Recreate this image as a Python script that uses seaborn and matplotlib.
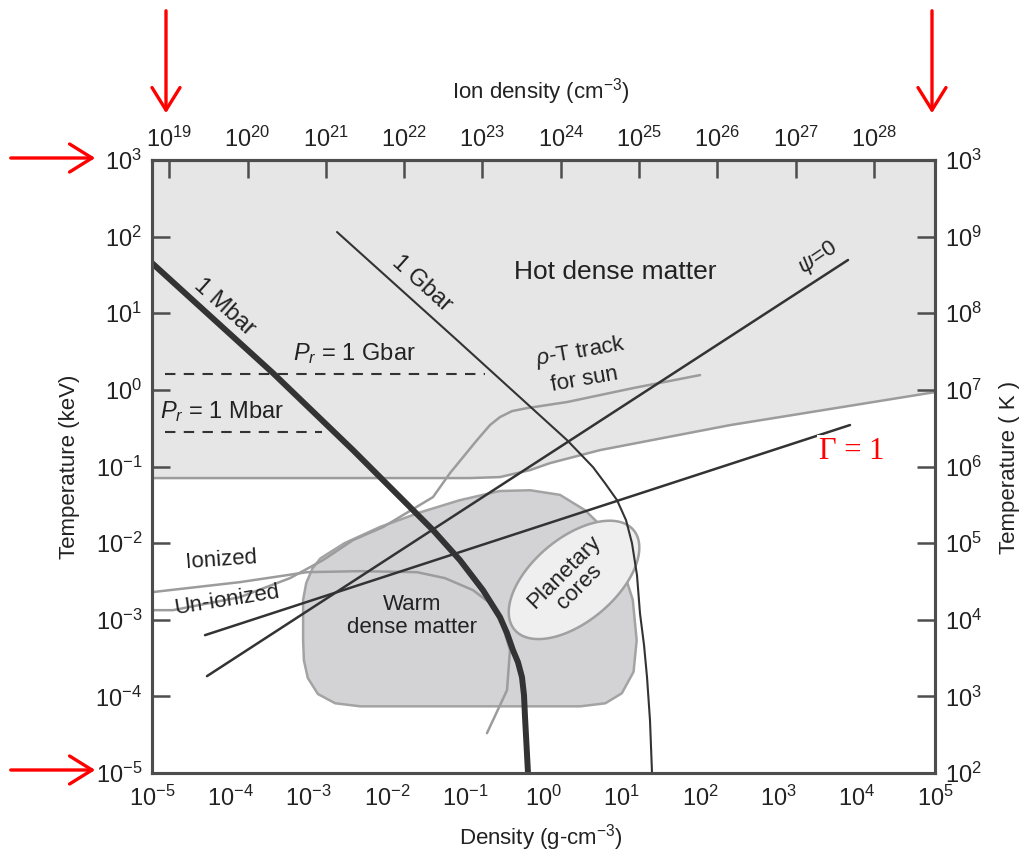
import numpy as np
import pandas as pd
import matplotlib
matplotlib.use("Agg")
import matplotlib.pyplot as plt
import seaborn as sns
from matplotlib.patches import FancyArrowPatch
from matplotlib.ticker import NullLocator, FixedLocator

# ---------------- data (log10 density [g/cm3], log10 temperature [keV]) ----------------
mbar_logrho = [-5.0, -3.455, -2.433, -1.411, -1.067, -0.773, -0.556, -0.466, -0.390, -0.326, -0.275, -0.249, -0.236, -0.198]
mbar_logT   = [1.655, 0.219, -0.786, -1.830, -2.222, -2.614, -2.966, -3.175, -3.397, -3.554, -3.749, -3.984, -4.272, -5.0]

gbar_logrho = [-2.637, -1.105, 0.300, 0.632, 0.785, 0.939, 1.054, 1.130, 1.194, 1.232, 1.284, 1.322, 1.360, 1.386]
gbar_logT   = [2.060, 0.650, -0.655, -1.008, -1.217, -1.439, -1.700, -2.0, -2.418, -2.914, -3.332, -3.749, -4.311, -5.0]

psi0_logrho = [-4.298, 3.889]
psi0_logT   = [-3.736, 1.695]

gamma1_logrho = [-4.323, 3.914]
gamma1_logT   = [-3.201, -0.459]

pr_gbar_logrho = [-4.83, -0.75]
pr_gbar_logT   = [0.206, 0.206]
pr_mbar_logrho = [-4.83, -2.83]
pr_mbar_logT   = [-0.551, -0.551]

hdm_logrho = [-5.0, -1.833, -0.939, -0.556, -0.172, 0.083, 0.722, 2.382, 5.0]
hdm_logT   = [-1.151, -1.151, -1.151, -1.138, -1.047, -0.956, -0.786, -0.460, -0.029]

sun_logrho = [-5.0, -4.732, -3.876, -3.238, -2.816, -2.433, -2.050, -1.411, -1.194, -0.849, -0.683, -0.556, -0.402, -0.211, 0.300, 1.143, 1.999]
sun_logT   = [-2.875, -2.875, -2.705, -2.457, -2.222, -1.961, -1.791, -1.399, -1.086, -0.655, -0.459, -0.355, -0.277, -0.238, -0.159, 0.023, 0.193]

ion_logrho = [-5.0, -3.876, -3.020, -2.344, -1.616, -1.258, -0.900, -0.683, -0.556, -0.428, -0.466, -0.722]
ion_logT   = [-2.640, -2.509, -2.379, -2.366, -2.379, -2.457, -2.614, -2.783, -2.966, -3.397, -3.919, -4.480]

wdm_logrho = [-3.07, -3.07, -3.03, -2.95, -2.85, -2.54, -2.09, -1.58, -1.07, -0.56, -0.17, 0.21, 0.53, 0.79,
              1.00, 1.14, 1.19, 1.15, 1.00, 0.79, 0.47, -2.34, -2.66, -2.88, -3.01, -3.06]
wdm_logT   = [-3.27, -2.74, -2.52, -2.33, -2.20, -2.00, -1.79, -1.60, -1.44, -1.32, -1.31, -1.37, -1.57, -1.83,
              -2.29, -2.74, -3.27, -3.68, -3.96, -4.09, -4.13, -4.13, -4.09, -3.97, -3.76, -3.53]

planet_center = (0.39, -2.48)   # log10 rho, log10 T
planet_axes = (1.0, 0.54)       # semi-axes in decades
planet_angle = 41.0             # degrees

ion_density_ticks = [19, 20, 21, 22, 23, 24, 25, 26, 27, 28]
avogadro = 6.02e23
keV_ticks = [-5, -4, -3, -2, -1, 0, 1, 2, 3]
kelvin_labels = ["2", "3", "4", "5", "6", "7", "8", "9", "3"]
density_ticks = [-5, -4, -3, -2, -1, 0, 1, 2, 3, 4, 5]

# ---------------- style ----------------
sns.set_theme(style="white")
plt.rcParams["font.family"] = ["Liberation Sans", "DejaVu Sans"]
plt.rcParams["mathtext.fontset"] = "custom"
plt.rcParams["mathtext.rm"] = "Liberation Sans"
plt.rcParams["mathtext.it"] = "Liberation Sans:italic"
plt.rcParams["mathtext.bf"] = "Liberation Sans:bold"

TXT = "#222222"
DARK = "#333333"
GRAYL = "#9c9c9c"
SPINE = "#4d4d4d"

W, H = 1028, 857
fig = plt.figure(figsize=(W / 100, H / 100), dpi=100)
L, R, T, B = 152, 935, 160, 773
ax = fig.add_axes([L / W, 1 - B / H, (R - L) / W, (B - T) / H])
ax.set_facecolor("white")
ax.set_xscale("log")
ax.set_yscale("log")
ax.set_xlim(1e-5, 1e5)
ax.set_ylim(1e-5, 1e3)

def p(v):
    return np.power(10.0, np.asarray(v, dtype=float))

# hot dense matter region
ax.fill_between(p(hdm_logrho), p(hdm_logT), 1e3, color="#e6e6e6", lw=0, zorder=0)
# warm dense matter region
ax.fill(p(wdm_logrho), p(wdm_logT), facecolor="#d3d3d5", edgecolor="#a3a3a3", lw=1.8,
        joinstyle="round", zorder=1)

# planetary cores ellipse (in log space)
tt = np.linspace(0, 2 * np.pi, 200)
th = np.deg2rad(planet_angle)
ex = planet_center[0] + planet_axes[0] * np.cos(tt) * np.cos(th) - planet_axes[1] * np.sin(tt) * np.sin(th)
ey = planet_center[1] + planet_axes[0] * np.cos(tt) * np.sin(th) + planet_axes[1] * np.sin(tt) * np.cos(th)
ax.fill(p(ex), p(ey), facecolor="#efefef", edgecolor="#a0a0a0", lw=1.8, zorder=3)

def line(lr, lt, **kw):
    df = pd.DataFrame({"rho": p(lr), "T": p(lt)})
    sns.lineplot(data=df, x="rho", y="T", sort=False, estimator=None, ax=ax, **kw)

line(hdm_logrho, hdm_logT, color=GRAYL, lw=1.8, zorder=2)
line(sun_logrho, sun_logT, color=GRAYL, lw=1.8, zorder=2)
line(ion_logrho, ion_logT, color=GRAYL, lw=1.8, zorder=2)
line(pr_gbar_logrho, pr_gbar_logT, color=DARK, lw=1.5, dashes=(5, 4), zorder=4)
line(pr_mbar_logrho, pr_mbar_logT, color=DARK, lw=1.5, dashes=(5, 4), zorder=4)
line(psi0_logrho, psi0_logT, color=DARK, lw=1.8, zorder=4)
line(gamma1_logrho, gamma1_logT, color=DARK, lw=1.8, zorder=4)
line(gbar_logrho, gbar_logT, color=DARK, lw=1.5, zorder=4)
line(mbar_logrho, mbar_logT, color=DARK, lw=4.3, zorder=5)
ax.set_xlabel("")
ax.set_ylabel("")

# ---------------- axes / ticks ----------------
ax.xaxis.set_major_locator(FixedLocator(p(density_ticks)))
ax.xaxis.set_minor_locator(NullLocator())
ax.set_xticklabels([f"$10^{{{k}}}$" for k in density_ticks])
ax.yaxis.set_major_locator(FixedLocator(p(keV_ticks)))
ax.yaxis.set_minor_locator(NullLocator())
ax.set_yticklabels([f"$10^{{{k}}}$" for k in keV_ticks])
tick_kw = dict(direction="in", length=13, width=1.8, color=SPINE, labelsize=17, labelcolor=TXT)
ax.tick_params(axis="x", which="major", pad=9, top=False, **tick_kw)
ax.tick_params(axis="y", which="major", pad=7, right=False, **tick_kw)
for s in ax.spines.values():
    s.set_color(SPINE)
    s.set_linewidth(2.2)
    s.set_visible(True)

secx = ax.secondary_xaxis("top", functions=(lambda r: r * avogadro, lambda n: n / avogadro))
secx.set_xticks(p(ion_density_ticks), labels=[f"$10^{{{k}}}$" for k in ion_density_ticks])
secx.xaxis.set_minor_locator(NullLocator())
secx.tick_params(axis="x", which="major", pad=6, **tick_kw)
secx.spines["top"].set_color(SPINE)
secx.spines["top"].set_linewidth(2.2)

ax2 = ax.twinx()
ax2.set_yscale("log")
ax2.set_ylim(1e-5, 1e3)
ax2.yaxis.set_major_locator(FixedLocator(p(keV_ticks)))
ax2.yaxis.set_minor_locator(NullLocator())
ax2.set_yticklabels([f"$10^{{{k}}}$" for k in kelvin_labels])
ax2.tick_params(axis="y", which="major", pad=7, **tick_kw)
ax2.grid(False)
ax.grid(False)
for s in ax2.spines.values():
    s.set_color(SPINE)
    s.set_linewidth(2.2)

# axis titles
fig.text(541 / W, 1 - 838 / H, "Density (g-cm$^{-3}$)", ha="center", va="center", fontsize=16, color=TXT)
fig.text(541 / W, 1 - 92 / H, "Ion density (cm$^{-3}$)", ha="center", va="center", fontsize=16, color=TXT)
fig.text(70 / W, 1 - 467 / H, "Temperature (keV)", ha="center", va="center", rotation=90, fontsize=16, color=TXT)
fig.text(1010 / W, 1 - 467 / H, "Temperature ( K )", ha="center", va="center", rotation=90, fontsize=16, color=TXT)

# in-plot labels (axes fraction)
def lab(x, y, s, rot=0, size=16, **kw):
    ax.text(x, y, s, transform=ax.transAxes, ha="center", va="center", rotation=rot,
            rotation_mode="anchor", fontsize=size, color=kw.pop("color", TXT), zorder=6, **kw)

lab(0.591, 0.817, "Hot dense matter", size=19)
lab(0.093, 0.760, "1 Mbar", rot=-42, size=17)
lab(0.344, 0.799, "1 Gbar", rot=-42, size=17)
lab(0.851, 0.840, r"$\psi$=0", rot=34, size=16)
lab(0.259, 0.685, r"$P_r$ = 1 Gbar", size=17)
lab(0.089, 0.589, r"$P_r$ = 1 Mbar", size=17)
lab(0.547, 0.687, r"$\rho$-T track", rot=10, size=16)
lab(0.552, 0.641, "for sun", rot=10, size=16)
lab(0.089, 0.347, "Ionized", rot=4, size=16)
lab(0.096, 0.282, "Un-ionized", rot=9, size=16)
lab(0.332, 0.256, "Warm\ndense matter", size=16, linespacing=1.1)
lab(0.536, 0.315, "Planetary\ncores", rot=45, size=16, linespacing=1.0)
ax.text(0.894, 0.524, "Γ = 1", transform=ax.transAxes, ha="center", va="center", fontsize=22,
        color="red", family=["Liberation Serif", "DejaVu Serif"], zorder=7,
        bbox=dict(facecolor="white", edgecolor="none", pad=2))

# red arrows (annotation overlay)
def arrow(x0, y0, x1, y1):
    a = FancyArrowPatch((x0 / W, 1 - y0 / H), (x1 / W, 1 - y1 / H), transform=fig.transFigure,
                        arrowstyle="->,head_length=0.45,head_width=0.28", mutation_scale=36,
                        color="red", lw=2.4)
    fig.add_artist(a)

arrow(166, 8, 166, 116)
arrow(932, 8, 932, 116)
arrow(8, 158, 98, 158)
arrow(8, 770, 98, 770)

fig.savefig("out.png", dpi=100, facecolor="white")
